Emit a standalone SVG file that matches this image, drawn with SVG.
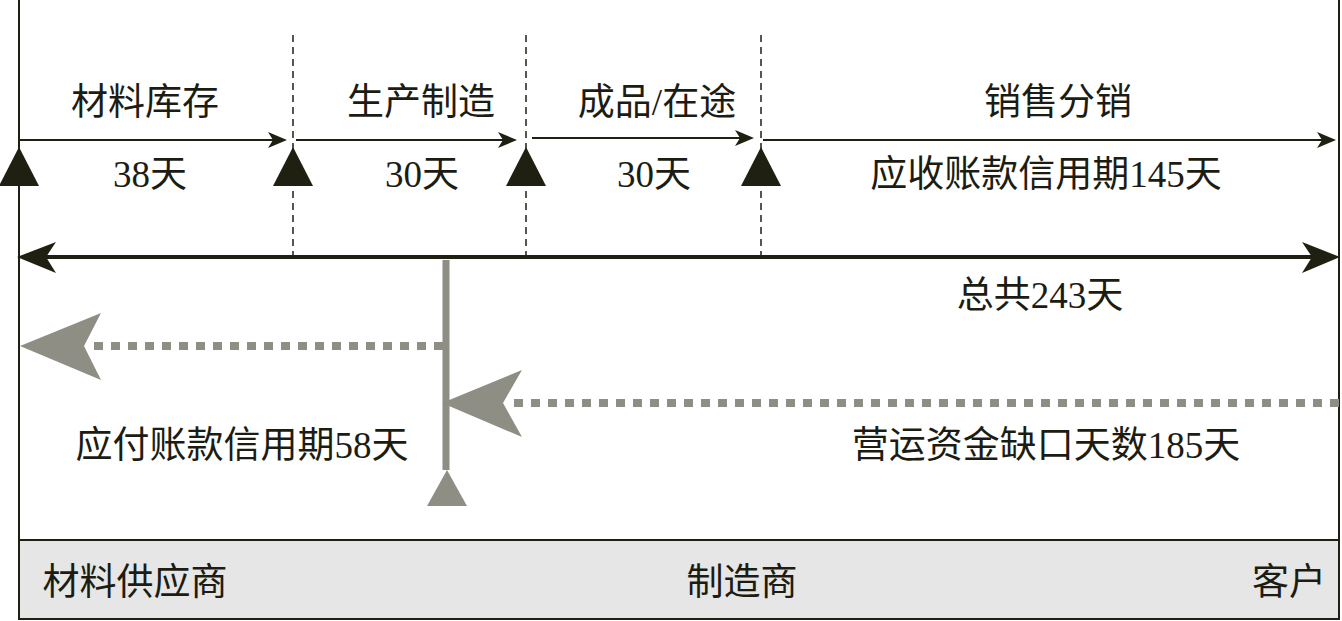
<svg xmlns="http://www.w3.org/2000/svg" width="1342" height="621" viewBox="0 0 1342 621">
<style>
.t{font-family:"Liberation Serif","Noto Sans CJK SC",serif;font-size:37px;fill:#1c1c12;text-anchor:middle}
.ln{stroke:#1f1f12;fill:none}
.dk{fill:#1f1f12}
.gr{fill:#8e8e84}
.dash{stroke:#1f1f12;stroke-width:1.5;stroke-dasharray:7,5;fill:none}
.dot{stroke:#8e8e84;stroke-width:8;stroke-dasharray:9,8;fill:none}
</style>
<rect width="1342" height="621" fill="#ffffff"/>
<g id="frame">
<rect x="19" y="540" width="1320" height="79" fill="#e6e6e6" stroke="#1f1f12" stroke-width="2"/>
<line x1="19" y1="0" x2="19" y2="540" class="ln" stroke-width="2"/>
<line x1="1339" y1="0" x2="1339" y2="540" class="ln" stroke-width="2"/>
</g>
<g id="connectors">
<line x1="293" y1="35" x2="293" y2="257" class="dash"/>
<line x1="526" y1="35" x2="526" y2="257" class="dash"/>
<line x1="761" y1="35" x2="761" y2="257" class="dash"/>
<line x1="19" y1="140" x2="280" y2="140" class="ln" stroke-width="2"/>
<path d="M287,140 L268,132 L273,140 L268,148 Z" class="dk"/>
<line x1="296" y1="140" x2="510" y2="140" class="ln" stroke-width="2"/>
<path d="M517,140 L498,132 L503,140 L498,148 Z" class="dk"/>
<line x1="532" y1="138" x2="746" y2="138" class="ln" stroke-width="2"/>
<path d="M754,138 L735,130 L740,138 L735,146 Z" class="dk"/>
<line x1="763" y1="140" x2="1328" y2="140" class="ln" stroke-width="2"/>
<path d="M1336,140 L1317,132 L1322,140 L1317,148 Z" class="dk"/>
<path d="M19,147 L39,186 L-1,186 Z" class="dk"/>
<path d="M293,147 L313,186 L273,186 Z" class="dk"/>
<path d="M526,147 L546,186 L506,186 Z" class="dk"/>
<path d="M761,147 L781,186 L741,186 Z" class="dk"/>
<line x1="40" y1="257" x2="1320" y2="257" class="ln" stroke-width="4"/>
<path d="M17,257 L56,242 L46,257 L56,273 Z" class="dk"/>
<path d="M1340,257 L1302,242 L1312,257 L1302,273 Z" class="dk"/>
<line x1="446" y1="260" x2="446" y2="470" stroke="#8e8e84" stroke-width="7"/>
<path d="M447,470 L467,506 L427,506 Z" class="gr"/>
<line x1="443" y1="346" x2="86" y2="346" class="dot"/>
<path d="M20,346 L101,313 L84,346 L101,380 Z" class="gr"/>
<line x1="1339" y1="403" x2="512" y2="403" class="dot"/>
<path d="M442,403 L522,370 L503,403 L522,437 Z" class="gr"/>
</g>
<g id="labels">
<text x="145" y="115" class="t">材料库存</text>
<text x="421" y="115" class="t">生产制造</text>
<text x="657" y="115" class="t">成品/在途</text>
<text x="1058" y="115" class="t">销售分销</text>
<text x="150" y="187" class="t">38天</text>
<text x="422" y="187" class="t">30天</text>
<text x="654" y="187" class="t">30天</text>
<text x="1046" y="187" class="t">应收账款信用期145天</text>
<text x="1040" y="308" class="t">总共243天</text>
<text x="242" y="458" class="t">应付账款信用期58天</text>
<text x="1046" y="458" class="t">营运资金缺口天数185天</text>
</g>
<g id="node-supplier"><text x="135" y="595" class="t">材料供应商</text></g>
<g id="node-manufacturer"><text x="742" y="595" class="t">制造商</text></g>
<g id="node-customer"><text x="1289" y="595" class="t">客户</text></g>
</svg>
